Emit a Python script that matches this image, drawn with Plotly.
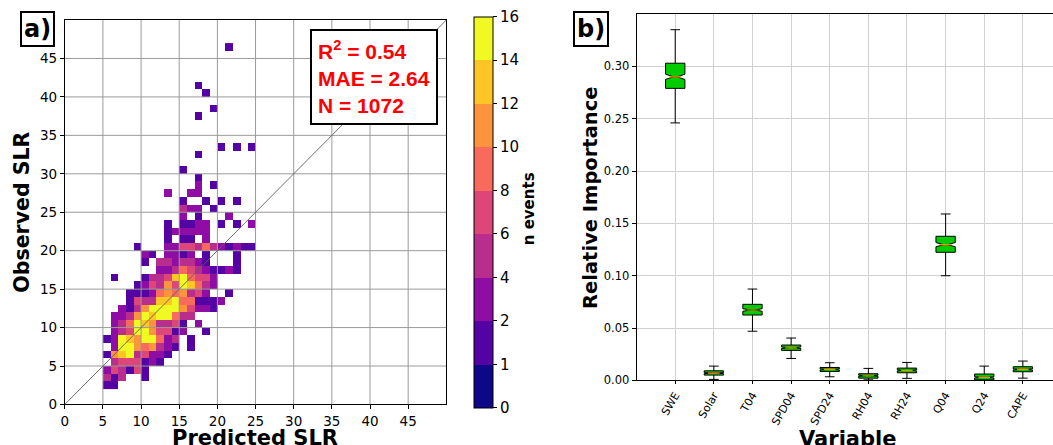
import bisect
import plotly.graph_objects as go

W, H = 1053, 445
HE = 436.5   # effective vertical extent observed in the rendered page

# ---------------- Panel a: 2-D histogram (counts per 1x1 SLR bin) ----------------
x_bin_left = list(range(5, 25))          # predicted SLR bin left edges (5..24)
y_bin_bottom = list(range(2, 47))        # observed SLR bin bottom edges (2..46)
bin_size = 1

count_rows = [
    [1, 1, 0, 0, 0, 0, 0, 0, 0, 0, 0, 0, 0, 0, 0, 0, 0, 0, 0, 0],    # 2
    [5, 1, 5, 0, 0, 1, 0, 0, 0, 0, 0, 0, 0, 0, 0, 0, 0, 0, 0, 0],    # 3
    [3, 7, 5, 1, 7, 1, 0, 0, 0, 0, 0, 0, 0, 0, 0, 0, 0, 0, 0, 0],    # 4
    [0, 5, 7, 7, 7, 1, 3, 1, 0, 0, 0, 0, 0, 0, 0, 0, 0, 0, 0, 0],    # 5
    [1, 11, 13, 15, 5, 7, 3, 3, 1, 0, 0, 0, 0, 0, 0, 0, 0, 0, 0, 0],  # 6
    [0, 3, 15, 15, 11, 9, 11, 5, 3, 1, 0, 1, 0, 0, 0, 0, 0, 0, 0, 0],  # 7
    [1, 3, 15, 13, 11, 15, 15, 9, 3, 5, 0, 1, 0, 0, 0, 0, 0, 0, 0, 0],  # 8
    [0, 3, 5, 7, 15, 15, 11, 7, 7, 1, 3, 0, 0, 1, 0, 0, 0, 0, 0, 0],   # 9
    [0, 3, 5, 9, 15, 13, 11, 5, 5, 7, 1, 0, 3, 0, 0, 0, 0, 0, 0, 0],   # 10
    [0, 3, 3, 5, 11, 15, 13, 15, 15, 9, 5, 5, 0, 0, 0, 0, 0, 0, 0, 0],  # 11
    [0, 0, 3, 1, 5, 11, 15, 15, 15, 15, 11, 7, 3, 3, 1, 0, 0, 0, 0, 0],  # 12
    [0, 0, 0, 1, 7, 5, 5, 13, 13, 15, 9, 9, 1, 1, 1, 3, 0, 0, 0, 0],    # 13
    [0, 0, 0, 1, 1, 1, 3, 9, 11, 9, 11, 5, 7, 3, 0, 0, 1, 0, 0, 0],     # 14
    [0, 0, 0, 0, 1, 3, 7, 5, 11, 7, 15, 13, 9, 5, 3, 0, 0, 0, 0, 0],    # 15
    [0, 1, 0, 0, 0, 1, 5, 5, 7, 13, 15, 9, 7, 7, 3, 0, 0, 0, 0, 0],     # 16
    [0, 0, 0, 0, 0, 0, 0, 3, 3, 5, 9, 7, 5, 3, 1, 1, 3, 1, 0, 0],       # 17
    [0, 0, 0, 0, 0, 1, 0, 5, 5, 3, 5, 5, 3, 1, 0, 0, 0, 1, 0, 0],       # 18
    [0, 0, 0, 0, 0, 3, 1, 0, 3, 3, 1, 3, 0, 1, 0, 0, 0, 1, 0, 0],       # 19
    [0, 0, 0, 0, 1, 0, 0, 0, 3, 3, 7, 7, 5, 9, 5, 3, 1, 3, 1, 1],       # 20
    [0, 0, 0, 0, 0, 0, 0, 0, 1, 0, 1, 1, 0, 3, 0, 0, 0, 0, 0, 0],       # 21
    [0, 0, 0, 0, 0, 0, 0, 0, 1, 3, 3, 3, 3, 3, 0, 0, 0, 0, 0, 0],       # 22
    [0, 0, 0, 0, 0, 0, 0, 0, 1, 0, 1, 1, 3, 3, 0, 1, 0, 1, 0, 3],       # 23
    [0, 0, 0, 0, 0, 0, 0, 0, 0, 0, 3, 0, 1, 0, 0, 0, 3, 0, 0, 0],       # 24
    [0, 0, 0, 0, 0, 0, 0, 0, 0, 0, 5, 3, 3, 0, 1, 0, 0, 0, 0, 0],       # 25
    [0, 0, 0, 0, 0, 0, 0, 0, 0, 0, 1, 0, 0, 1, 0, 1, 0, 1, 0, 0],       # 26
    [0, 0, 0, 0, 0, 0, 0, 0, 3, 0, 0, 3, 3, 0, 0, 0, 0, 0, 0, 0],       # 27
    [0, 0, 0, 0, 0, 0, 0, 0, 0, 0, 0, 0, 3, 0, 1, 0, 0, 0, 0, 0],       # 28
    [0, 0, 0, 0, 0, 0, 0, 0, 0, 0, 0, 0, 1, 0, 0, 0, 0, 0, 0, 0],       # 29
    [0, 0, 0, 0, 0, 0, 0, 0, 0, 0, 1, 0, 0, 0, 0, 0, 0, 0, 0, 0],       # 30
    [0, 0, 0, 0, 0, 0, 0, 0, 0, 0, 0, 0, 0, 0, 0, 0, 0, 0, 0, 0],       # 31
    [0, 0, 0, 0, 0, 0, 0, 0, 0, 0, 0, 0, 1, 0, 0, 0, 0, 0, 0, 0],       # 32
    [0, 0, 0, 0, 0, 0, 0, 0, 0, 0, 0, 0, 0, 0, 0, 1, 0, 1, 0, 1],       # 33
    [0, 0, 0, 0, 0, 0, 0, 0, 0, 0, 0, 0, 0, 0, 0, 0, 0, 0, 0, 0],       # 34
    [0, 0, 0, 0, 0, 0, 0, 0, 0, 0, 0, 0, 0, 0, 0, 0, 0, 0, 0, 0],       # 35
    [0, 0, 0, 0, 0, 0, 0, 0, 0, 0, 0, 0, 0, 0, 0, 0, 0, 0, 0, 0],       # 36
    [0, 0, 0, 0, 0, 0, 0, 0, 0, 0, 0, 0, 1, 0, 0, 0, 0, 0, 0, 0],       # 37
    [0, 0, 0, 0, 0, 0, 0, 0, 0, 0, 0, 0, 0, 0, 1, 0, 0, 0, 0, 0],       # 38
    [0, 0, 0, 0, 0, 0, 0, 0, 0, 0, 0, 0, 0, 0, 0, 0, 0, 0, 0, 0],       # 39
    [0, 0, 0, 0, 0, 0, 0, 0, 0, 0, 0, 0, 0, 1, 0, 0, 0, 0, 0, 0],       # 40
    [0, 0, 0, 0, 0, 0, 0, 0, 0, 0, 0, 0, 1, 0, 0, 0, 0, 0, 0, 0],       # 41
    [0, 0, 0, 0, 0, 0, 0, 0, 0, 0, 0, 0, 0, 0, 0, 0, 0, 0, 0, 0],       # 42
    [0, 0, 0, 0, 0, 0, 0, 0, 0, 0, 0, 0, 0, 0, 0, 0, 0, 0, 0, 0],       # 43
    [0, 0, 0, 0, 0, 0, 0, 0, 0, 0, 0, 0, 0, 0, 0, 0, 0, 0, 0, 0],       # 44
    [0, 0, 0, 0, 0, 0, 0, 0, 0, 0, 0, 0, 0, 0, 0, 0, 0, 0, 0, 0],       # 45
    [0, 0, 0, 0, 0, 0, 0, 0, 0, 0, 0, 0, 0, 0, 0, 0, 1, 0, 0, 0],       # 46
]

count_bounds = [0, 1, 2, 4, 6, 8, 10, 12, 14, 16]
level_colors = ["#0d0887", "#5402a3", "#8f0da4", "#b92d8c", "#dc4679",
                "#f76a5c", "#fb943c", "#fec526", "#f0f921"]
slr_ticks = [0, 5, 10, 15, 20, 25, 30, 35, 40, 45]
slr_limits = [0, 50]
stats_lines = ["R<sup>2</sup> = 0.54", "MAE = 2.64", "N = 1072"]

# ---------------- Panel b: relative importance box stats ----------------
variables = ["SWE", "Solar", "T04", "SPD04", "SPD24", "RH04", "RH24", "Q04", "Q24", "CAPE"]
imp_low = [0.246, 0.001, 0.047, 0.021, 0.0035, 0.0006, 0.002, 0.100, 0.000, 0.0022]
imp_q1 = [0.279, 0.0051, 0.0625, 0.0287, 0.0086, 0.0022, 0.0073, 0.1224, 0.0006, 0.0083]
imp_med = [0.290, 0.0070, 0.0673, 0.0312, 0.0105, 0.0045, 0.0096, 0.1297, 0.0029, 0.0105]
imp_q3 = [0.303, 0.0092, 0.0727, 0.0338, 0.0124, 0.0064, 0.0118, 0.1377, 0.0061, 0.0131]
imp_high = [0.335, 0.0137, 0.0873, 0.0405, 0.0169, 0.0115, 0.0172, 0.159, 0.0137, 0.0185]
imp_notch = [0.0025, 0.0005, 0.0012, 0.0007, 0.0005, 0.0005, 0.0005, 0.002, 0.0006, 0.0005]
imp_ticks = [0.00, 0.05, 0.10, 0.15, 0.20, 0.25, 0.30]

FONT = "DejaVu Sans"
NOTCH_W = 0.4

# ---- build heatmap matrices
x_centers = [u + bin_size / 2 for u in x_bin_left]
y_centers = [v + bin_size / 2 for v in y_bin_bottom]
z_level, z_count = [], []
for row in count_rows:
    zl, zc = [], []
    for c in row:
        if c > 0:
            zl.append(bisect.bisect_right(count_bounds, c) - 1 + 0.5)
            zc.append(c)
        else:
            zl.append(None)
            zc.append(None)
    z_level.append(zl)
    z_count.append(zc)

nlev = len(level_colors)
colorscale = []
for i, col in enumerate(level_colors):
    colorscale.append([i / nlev, col])
    colorscale.append([(i + 1) / nlev, col])


def px_x(p):
    return p / W


def px_y(p):
    return 1 - p / HE


fig = go.Figure()

fig.add_trace(go.Heatmap(
    x=x_centers, y=y_centers, z=z_level, customdata=z_count,
    colorscale=colorscale, zmin=0, zmax=nlev, xaxis="x", yaxis="y",
    hovertemplate="pred %{x}<br>obs %{y}<br>n=%{customdata}<extra></extra>",
    colorbar=dict(
        x=px_x(471.7), xanchor="left", xpad=0, ypad=0,
        y=px_y(212), yanchor="middle",
        thickness=19, thicknessmode="pixels",
        len=(404 - 20) * H / HE, lenmode="pixels",
        outlinewidth=1, outlinecolor="black",
        tickmode="array", tickvals=list(range(nlev + 1)),
        ticktext=[str(b) for b in count_bounds],
        ticks="outside", ticklen=4, tickcolor="black",
        tickfont=dict(family=FONT, size=15, color="black"),
    ),
))

# ---- box plot panel b
positions = list(range(1, len(variables) + 1))
fig.add_trace(go.Box(
    x=positions, q1=imp_q1, median=imp_med, q3=imp_q3,
    lowerfence=imp_low, upperfence=imp_high, notchspan=imp_notch,
    notched=True, notchwidth=NOTCH_W, width=0.5, whiskerwidth=0.5,
    fillcolor="#00cc00", line=dict(color="black", width=1),
    boxpoints=False, xaxis="x2", yaxis="y2", showlegend=False,
    hoverinfo="skip",
))
# orange medians (matplotlib style), spanning the notch waist
half = 0.25 * (1 - NOTCH_W)
mx, my = [], []
for p, m in zip(positions, imp_med):
    mx += [p - half, p + half, None]
    my += [m, m, None]
fig.add_trace(go.Scatter(x=mx, y=my, mode="lines",
                         line=dict(color="#ff8c0e", width=1.2),
                         xaxis="x2", yaxis="y2", showlegend=False, hoverinfo="skip"))

# ---- grid lines over heatmap and 1:1 line
shapes = []
for t in slr_ticks[1:]:
    shapes.append(dict(type="line", xref="x", yref="y", x0=t, x1=t,
                       y0=slr_limits[0], y1=slr_limits[1], layer="above",
                       line=dict(color="#9a9a9a", width=1)))
    shapes.append(dict(type="line", xref="x", yref="y", y0=t, y1=t,
                       x0=slr_limits[0], x1=slr_limits[1], layer="above",
                       line=dict(color="#9a9a9a", width=1)))
shapes.append(dict(type="line", xref="x", yref="y", x0=slr_limits[0], y0=slr_limits[0],
                   x1=slr_limits[1], y1=slr_limits[1], layer="above",
                   line=dict(color="#606060", width=0.9)))

axis_common = dict(showline=True, linecolor="black", linewidth=1, mirror=True,
                   ticks="outside", ticklen=4, tickcolor="black", zeroline=False)

annotations = [
    dict(text="<b>a)</b>", x=px_x(34), y=px_y(29), xref="paper", yref="paper",
         xanchor="center", yanchor="middle", showarrow=False,
         font=dict(family=FONT, size=24, color="black"),
         bordercolor="black", borderwidth=2, borderpad=2, bgcolor="white"),
    dict(text="<b>b)</b>", x=px_x(589), y=px_y(29), xref="paper", yref="paper",
         xanchor="center", yanchor="middle", showarrow=False,
         font=dict(family=FONT, size=24, color="black"),
         bordercolor="black", borderwidth=2, borderpad=2, bgcolor="white"),
    dict(text="<br>".join("<b>" + s + "</b>" for s in stats_lines),
         x=px_x(307), y=px_y(29), xref="paper", yref="paper",
         xanchor="left", yanchor="top", align="left", showarrow=False,
         font=dict(family="Liberation Sans", size=21, color="#ff0000"),
         bordercolor="black", borderwidth=2, borderpad=6, bgcolor="white"),
    dict(text="<b>Predicted SLR</b>", x=px_x(252), y=px_y(424), xref="paper", yref="paper",
         xanchor="center", yanchor="top", showarrow=False,
         font=dict(family=FONT, size=21, color="black")),
    dict(text="<b>Observed SLR</b>", x=px_x(18.5), y=px_y(212), xref="paper", yref="paper",
         xanchor="center", yanchor="middle", showarrow=False, textangle=-90,
         font=dict(family=FONT, size=20.5, color="black")),
    dict(text="<b>n events</b>", x=px_x(527), y=px_y(208), xref="paper", yref="paper",
         xanchor="center", yanchor="middle", showarrow=False, textangle=-90,
         font=dict(family=FONT, size=15, color="black")),
    dict(text="<b>Relative Importance</b>", x=px_x(588), y=px_y(197), xref="paper", yref="paper",
         xanchor="center", yanchor="middle", showarrow=False, textangle=-90,
         font=dict(family=FONT, size=19.5, color="black")),
    dict(text="<b>Variable</b>", x=px_x(847), y=px_y(425), xref="paper", yref="paper",
         xanchor="center", yanchor="top", showarrow=False,
         font=dict(family=FONT, size=21, color="black")),
]

fig.update_layout(
    width=W, height=H, autosize=False, margin=dict(l=0, r=0, t=0, b=0, pad=0),
    paper_bgcolor="white", plot_bgcolor="white", showlegend=False,
    font=dict(family=FONT, color="black"),
    xaxis=dict(domain=[px_x(61), px_x(444)], range=slr_limits, tickvals=slr_ticks,
               showgrid=False, anchor="y",
               tickfont=dict(family=FONT, size=13.5, color="black"), **axis_common),
    yaxis=dict(domain=[px_y(404), px_y(20)], range=slr_limits, tickvals=slr_ticks,
               showgrid=False, anchor="x",
               tickfont=dict(family=FONT, size=13.5, color="black"), **axis_common),
    xaxis2=dict(domain=[px_x(635), 1.0], range=[0, 10.78], tickmode="array",
                tickvals=positions, ticktext=variables, tickangle=-60,
                showgrid=True, gridcolor="#d0d0d0", gridwidth=1, anchor="y2",
                tickfont=dict(family=FONT, size=11, color="black"),
                showline=True, linecolor="black", linewidth=1, mirror=True,
                ticks="outside", ticklen=3, tickcolor="black", zeroline=False),
    yaxis2=dict(domain=[px_y(380), px_y(14)], range=[0, 0.35], tickvals=imp_ticks,
                tickformat=".2f", showgrid=True, gridcolor="#d0d0d0", gridwidth=1,
                anchor="x2", tickfont=dict(family=FONT, size=11.5, color="black"),
                showline=True, linecolor="black", linewidth=1, mirror=False,
                ticks="outside", ticklen=4, tickcolor="black", zeroline=False),
    shapes=shapes, annotations=annotations,
)

fig.write_html("out.html", config={"responsive": False})
